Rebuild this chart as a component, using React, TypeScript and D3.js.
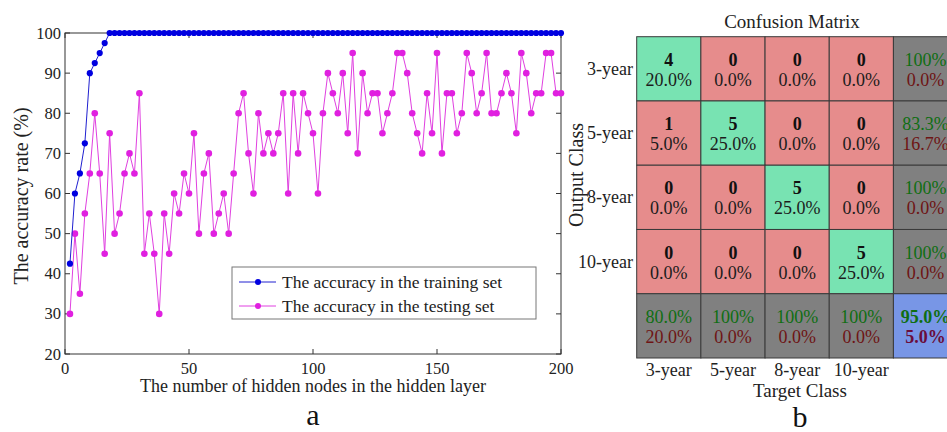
import React from "react";
import * as d3 from "d3";

const nodes = [2,4,6,8,10,12,14,16,18,20,22,24,26,28,30,32,34,36,38,40,42,44,46,48,50,52,54,56,58,60,62,64,66,68,70,72,74,76,78,80,82,84,86,88,90,92,94,96,98,100,102,104,106,108,110,112,114,116,118,120,122,124,126,128,130,132,134,136,138,140,142,144,146,148,150,152,154,156,158,160,162,164,166,168,170,172,174,176,178,180,182,184,186,188,190,192,194,196,198,200];
const trainAcc = [42.5,60,65,72.5,90,92.5,95,97.5,100,100,100,100,100,100,100,100,100,100,100,100,100,100,100,100,100,100,100,100,100,100,100,100,100,100,100,100,100,100,100,100,100,100,100,100,100,100,100,100,100,100,100,100,100,100,100,100,100,100,100,100,100,100,100,100,100,100,100,100,100,100,100,100,100,100,100,100,100,100,100,100,100,100,100,100,100,100,100,100,100,100,100,100,100,100,100,100,100,100,100,100];
const testAcc = [30,50,35,55,65,80,65,45,75,50,55,65,70,65,85,45,55,45,30,55,45,60,55,65,60,75,50,65,70,50,55,60,50,65,80,85,70,60,80,70,75,70,75,85,60,85,70,85,80,75,60,80,90,85,80,90,75,95,70,90,80,85,85,75,80,85,95,95,90,80,75,70,85,75,95,70,85,85,75,80,95,90,80,85,95,80,80,85,90,85,75,95,90,80,85,85,95,95,85,85];
const xTicks = [0, 50, 100, 150, 200];
const yTicks = [20, 30, 40, 50, 60, 70, 80, 90, 100];
const legendLabels = ["The accuracy in the training set", "The accuracy in the testing set"];

const classes = ["3-year", "5-year", "8-year", "10-year"];
const counts = [[4,0,0,0],[1,5,0,0],[0,0,5,0],[0,0,0,5]];
const cellPercents = [["20.0%","0.0%","0.0%","0.0%"],["5.0%","25.0%","0.0%","0.0%"],["0.0%","0.0%","25.0%","0.0%"],["0.0%","0.0%","0.0%","25.0%"]];
const rowCorrect = ["100%","83.3%","100%","100%"];
const rowWrong = ["0.0%","16.7%","0.0%","0.0%"];
const colCorrect = ["80.0%","100%","100%","100%"];
const colWrong = ["20.0%","0.0%","0.0%","0.0%"];
const overallCorrect = "95.0%";
const overallWrong = "5.0%";

const FONT = "'Liberation Serif', 'Times New Roman', serif";

export default function App() {
  const x = d3.scaleLinear().domain([0, 200]).range([65, 561]);
  const y = d3.scaleLinear().domain([20, 100]).range([354, 33]);
  const line = d3.line<number>().x((_, i) => x(nodes[i])).y((d) => y(d));

  const idx = [0, 1, 2, 3, 4];
  const cx = d3.scaleBand<number>().domain(idx).range([636.7, 957.6]);
  const cy = d3.scaleBand<number>().domain(idx).range([36.7, 358]);
  const bw = cx.bandwidth();
  const bh = cy.bandwidth();

  const green = "#78E3B2";
  const red = "#E68C8C";
  const gray = "#808080";
  const blue = "#7896E6";
  const gText = "#0f6e12";
  const rText = "#6e1414";

  const cells: any[] = [];
  for (let r = 0; r < 5; r++) {
    for (let c = 0; c < 5; c++) {
      let fill = gray;
      let top = "", bottom = "", topColor = "#111", bottomColor = "#222", topBold = false, bottomBold = false;
      if (r < 4 && c < 4) {
        fill = r === c ? green : red;
        top = String(counts[r][c]);
        bottom = cellPercents[r][c];
        topBold = true;
        topColor = "#111";
        bottomColor = "#1c1c1c";
      } else if (r < 4 && c === 4) {
        top = rowCorrect[r]; bottom = rowWrong[r]; topColor = gText; bottomColor = rText;
      } else if (r === 4 && c < 4) {
        top = colCorrect[c]; bottom = colWrong[c]; topColor = gText; bottomColor = rText;
      } else {
        fill = blue;
        top = overallCorrect; bottom = overallWrong; topColor = gText; bottomColor = "#6a0d3c";
        topBold = true; bottomBold = true;
      }
      const px = cx(c)!;
      const py = cy(r)!;
      cells.push(
        <g key={`${r}-${c}`}>
          <rect x={px} y={py} width={bw} height={bh} fill={fill} stroke="#3a3a3a" strokeWidth={1} />
          <text x={px + bw / 2} y={py + bh / 2 - 9} textAnchor="middle" dominantBaseline="central" fontSize={18} fontWeight={topBold ? "bold" : "normal"} fill={topColor}>{top}</text>
          <text x={px + bw / 2} y={py + bh / 2 + 11} textAnchor="middle" dominantBaseline="central" fontSize={18} fontWeight={bottomBold ? "bold" : "normal"} fill={bottomColor}>{bottom}</text>
        </g>
      );
    }
  }

  const axisColor = "#333";

  return (
    <svg width={947} height={432} style={{ position: "absolute", left: 0, top: 0, background: "#fff" }} fontFamily={FONT}>
      <rect x={0} y={0} width={947} height={432} fill="#fff" />
      {/* Left chart */}
      <g>
        <rect x={x(0)} y={y(100)} width={x(200) - x(0)} height={y(20) - y(100)} fill="none" stroke={axisColor} strokeWidth={1} />
        {yTicks.map((t) => (
          <g key={`yt${t}`}>
            <line x1={x(0)} x2={x(0) + 5} y1={y(t)} y2={y(t)} stroke={axisColor} />
            <line x1={x(200)} x2={x(200) - 5} y1={y(t)} y2={y(t)} stroke={axisColor} />
            <text x={x(0) - 4} y={y(t)} textAnchor="end" dominantBaseline="central" fontSize={16.5} fill="#222">{t}</text>
          </g>
        ))}
        {xTicks.map((t) => (
          <g key={`xt${t}`}>
            <line x1={x(t)} x2={x(t)} y1={y(20)} y2={y(20) - 5} stroke={axisColor} />
            <line x1={x(t)} x2={x(t)} y1={y(100)} y2={y(100) + 5} stroke={axisColor} />
            <text x={x(t)} y={y(20) + 14} textAnchor="middle" dominantBaseline="central" fontSize={16.5} fill="#222">{t}</text>
          </g>
        ))}
        <path d={line(testAcc) || ""} fill="none" stroke="#e040e0" strokeWidth={1} />
        {testAcc.map((v, i) => (
          <circle key={`te${i}`} cx={x(nodes[i])} cy={y(v)} r={3.3} fill="#e020e0" />
        ))}
        <path d={line(trainAcc) || ""} fill="none" stroke="#2020d0" strokeWidth={1} />
        {trainAcc.map((v, i) => (
          <circle key={`tr${i}`} cx={x(nodes[i])} cy={y(v)} r={3.1} fill="#0000e0" />
        ))}
        {/* legend */}
        <rect x={232} y={267} width={304} height={52} fill="#fff" stroke="#777" strokeWidth={1} />
        {legendLabels.map((l, i) => (
          <g key={`lg${i}`}>
            <line x1={239} x2={276} y1={282 + i * 24} y2={282 + i * 24} stroke={i === 0 ? "#2020d0" : "#e040e0"} strokeWidth={1} />
            <circle cx={258} cy={282 + i * 24} r={3} fill={i === 0 ? "#0000e0" : "#e020e0"} />
            <text x={282} y={282 + i * 24} dominantBaseline="central" fontSize={17.5} fill="#222">{l}</text>
          </g>
        ))}
        <text x={313} y={386} textAnchor="middle" dominantBaseline="central" fontSize={18} fill="#222">The number of hidden nodes in the hidden layer</text>
        <text transform="translate(21,196) rotate(-90)" textAnchor="middle" dominantBaseline="central" fontSize={20} fill="#222">The accuracy rate (%)</text>
        <text x={313} y={414} textAnchor="middle" dominantBaseline="central" fontSize={30} fill="#111">a</text>
      </g>
      {/* Confusion matrix */}
      <g>
        <text x={792} y={21} textAnchor="middle" dominantBaseline="central" fontSize={19} fill="#222">Confusion Matrix</text>
        {cells}
        {classes.map((c, i) => (
          <text key={`rl${i}`} x={633} y={cy(i)! + bh / 2} textAnchor="end" dominantBaseline="central" fontSize={18} fill="#222">{c}</text>
        ))}
        {classes.map((c, i) => (
          <text key={`cl${i}`} x={cx(i)! + bw / 2} y={370} textAnchor="middle" dominantBaseline="central" fontSize={18} fill="#222">{c}</text>
        ))}
        <text x={800} y={390} textAnchor="middle" dominantBaseline="central" fontSize={19} fill="#222">Target Class</text>
        <text transform="translate(576,175) rotate(-90)" textAnchor="middle" dominantBaseline="central" fontSize={20} fill="#222">Output Class</text>
        <text x={800} y={416} textAnchor="middle" dominantBaseline="central" fontSize={30} fill="#111">b</text>
      </g>
    </svg>
  );
}
